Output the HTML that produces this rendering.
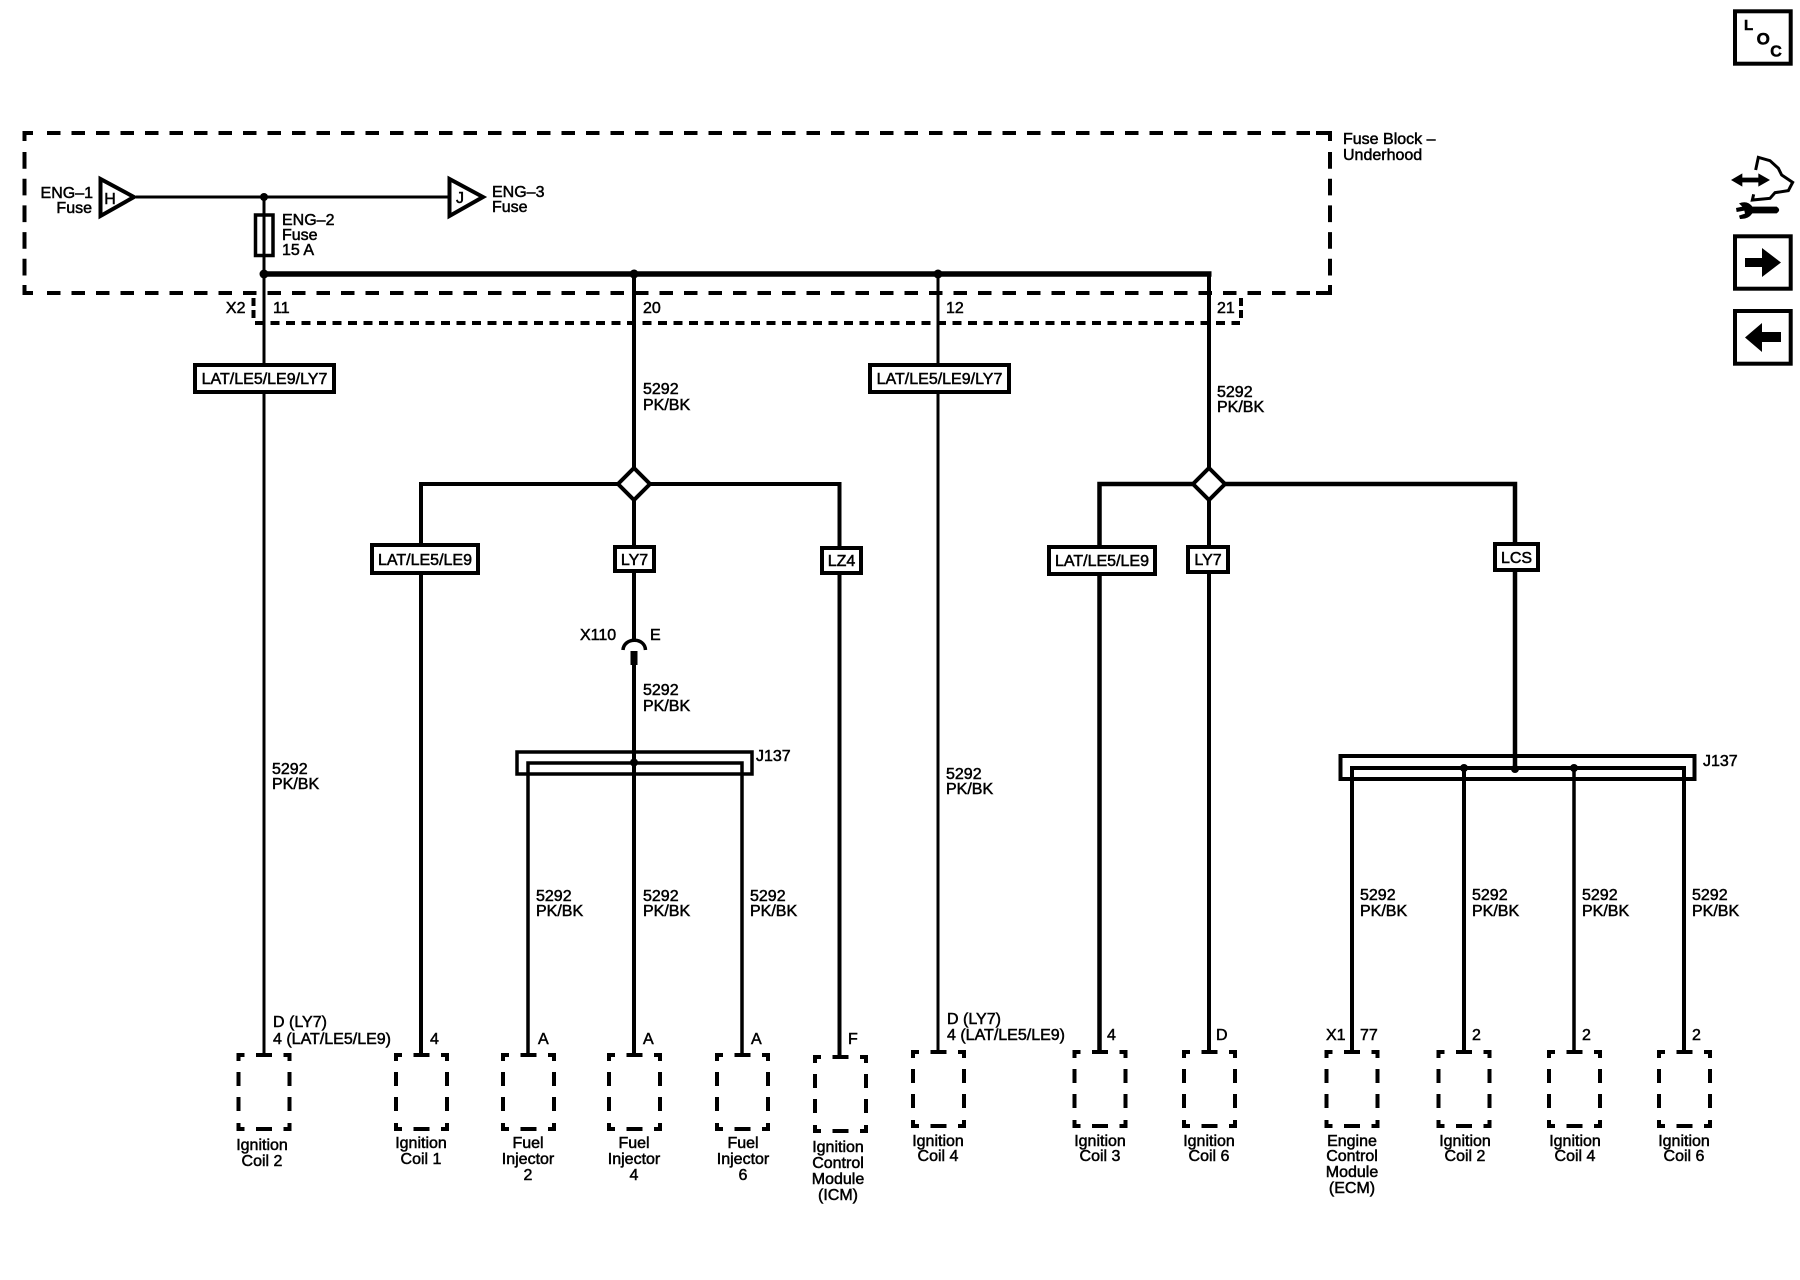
<!DOCTYPE html>
<html><head><meta charset="utf-8"><style>
html,body{margin:0;padding:0;background:#fff}
svg{display:block}
text{font-family:"Liberation Sans",sans-serif;font-size:16px;fill:#000;stroke:#000;stroke-width:.5px}
.m{text-anchor:middle}.e{text-anchor:end}
.w{fill:none;stroke:#000}
</style></head><body>
<svg width="1800" height="1280" viewBox="0 0 1800 1280" xmlns="http://www.w3.org/2000/svg">
<defs>
<g id="c" fill="none" stroke="#000" stroke-width="4">
<path d="M2 8V2H8M47 2H53V8M2 70V76H8M47 76H53V70"/>
<path d="M19.500 2H35.500M19.500 76H35.500M2 19V33M2 44V58M53 19V33M53 44V58"/>
</g>
</defs>
<rect width="1800" height="1280" fill="#fff"/>

<!-- Fuse block dashed outline -->
<g class="w" stroke-width="4" fill="none" stroke="#000">
<path d="M33 133H24.500V141M24.500 285V293H33M1316 133H1330V141M1330 285V293H1316"/>
<path d="M47 133H1310" stroke-dasharray="13.500 11"/>
<path d="M47 293H1310" stroke-dasharray="13.500 11"/>
<path d="M24.500 152V278" stroke-dasharray="16.700 10"/>
<path d="M1330 152V278" stroke-dasharray="16.700 10"/>
<path d="M255 323H1240" stroke-dasharray="9 6.500"/>
<path d="M253.500 298V318" stroke-dasharray="8 4"/>
<path d="M1241 298V318" stroke-dasharray="8 4"/>
</g>

<!-- Top wires -->
<path class="w" stroke-width="3" d="M136 197H449"/>
<path class="w" stroke-width="3" d="M264 197V1054"/>
<path class="w" stroke-width="5.500" d="M264 274H1211.500"/>
<path class="w" stroke-width="4" d="M634 274V640"/>
<path class="w" stroke-width="3" d="M938 274V1051"/>
<path class="w" stroke-width="4" d="M1209 272V470"/>
<circle cx="264" cy="197" r="4"/>
<circle cx="264" cy="274" r="4.500"/>
<circle cx="634" cy="274" r="4.500"/>
<circle cx="938" cy="274" r="4.500"/>

<!-- Triangles and fuse -->
<path d="M100.500 179V216L134 197Z" fill="#fff" stroke="#000" stroke-width="4"/>
<path d="M449.500 179V216L483 197Z" fill="#fff" stroke="#000" stroke-width="4"/>
<rect x="255.500" y="215" width="17.500" height="40.500" fill="#fff" stroke="#000" stroke-width="3.500"/>
<path class="w" stroke-width="3" d="M264 215V256"/>

<!-- Left splice -->
<path class="w" stroke-width="4" d="M421 1054V484H839.500V1055"/>
<path d="M634 468L650 484L634 500L618 484Z" fill="#fff" stroke="#000" stroke-width="4"/>
<path class="w" stroke-width="4" d="M634 500V640"/>
<path class="w" stroke-width="3.500" d="M623 650C624 637 645 637 645.500 650"/>
<rect x="630.500" y="651" width="7" height="14"/>
<path class="w" stroke-width="4" d="M634 665V1054"/>
<rect x="517" y="752" width="235" height="22" fill="none" stroke="#000" stroke-width="3.500"/>
<path class="w" stroke-width="3.500" d="M528 1054V763H742V1054"/>
<circle cx="634" cy="762.500" r="4"/>

<!-- Right splice -->
<path class="w" stroke-width="4.500" d="M1099.500 1051V484H1515V768"/>
<path class="w" stroke-width="4" d="M1209 500V1051"/>
<path d="M1209 468L1225 484L1209 500L1193 484Z" fill="#fff" stroke="#000" stroke-width="4"/>
<rect x="1340.500" y="756" width="354" height="23" fill="none" stroke="#000" stroke-width="4"/>
<path class="w" stroke-width="4" d="M1352 1051V768H1684V1051"/>
<path class="w" stroke-width="4" d="M1464 768V1051"/>
<path class="w" stroke-width="3.500" d="M1574 768V1051"/>
<circle cx="1464" cy="768" r="4"/>
<circle cx="1515" cy="769" r="4"/>
<circle cx="1574" cy="768" r="4"/>

<!-- Option boxes -->
<g fill="#fff" stroke="#000" stroke-width="4">
<rect x="195" y="365" width="139" height="27"/>
<rect x="870" y="365" width="139" height="27"/>
<rect x="372" y="545" width="106" height="28"/>
<rect x="615" y="547" width="39" height="24"/>
<rect x="822" y="548" width="39" height="25"/>
<rect x="1049" y="547" width="106" height="27"/>
<rect x="1188" y="547" width="40" height="25"/>
<rect x="1495" y="544" width="43" height="26"/>
</g>

<!-- Connectors -->
<use href="#c" x="236.500" y="1053"/>
<use href="#c" x="394" y="1053"/>
<use href="#c" x="501" y="1053"/>
<use href="#c" x="607" y="1053"/>
<use href="#c" x="715" y="1053"/>
<use href="#c" x="813" y="1055"/>
<use href="#c" x="911" y="1050"/>
<use href="#c" x="1072.500" y="1050"/>
<use href="#c" x="1182" y="1050"/>
<use href="#c" x="1324.500" y="1050"/>
<use href="#c" x="1436.500" y="1050"/>
<use href="#c" x="1547" y="1050"/>
<use href="#c" x="1657" y="1050"/>

<!-- Top labels -->
<text x="93" y="198" class="e">ENG–1</text>
<text x="92" y="213" class="e">Fuse</text>
<text x="110" y="204" class="m">H</text>
<text x="460" y="203" class="m">J</text>
<text x="492" y="197">ENG–3</text>
<text x="492" y="212">Fuse</text>
<text x="282" y="225">ENG–2</text>
<text x="282" y="240">Fuse</text>
<text x="282" y="255">15 A</text>
<text x="1343" y="144">Fuse Block –</text>
<text x="1343" y="160">Underhood</text>
<text x="245.500" y="313" class="e">X2</text>
<text x="273" y="313">11</text>
<text x="643" y="313">20</text>
<text x="946" y="313">12</text>
<text x="1217" y="313">21</text>

<!-- Option labels -->
<text x="264.500" y="384" class="m">LAT/LE5/LE9/LY7</text>
<text x="939.500" y="384" class="m">LAT/LE5/LE9/LY7</text>
<text x="425" y="565" class="m">LAT/LE5/LE9</text>
<text x="634.500" y="565" class="m">LY7</text>
<text x="841.500" y="566" class="m">LZ4</text>
<text x="1102" y="566" class="m">LAT/LE5/LE9</text>
<text x="1208" y="565" class="m">LY7</text>
<text x="1516.500" y="563" class="m">LCS</text>

<!-- Wire labels -->
<text x="643" y="394">5292</text><text x="643" y="410">PK/BK</text>
<text x="1217" y="397">5292</text><text x="1217" y="412">PK/BK</text>
<text x="272" y="774">5292</text><text x="272" y="789">PK/BK</text>
<text x="946" y="779">5292</text><text x="946" y="794">PK/BK</text>
<text x="643" y="695">5292</text><text x="643" y="711">PK/BK</text>
<text x="580" y="640">X110</text><text x="650" y="640">E</text>
<text x="756" y="761">J137</text>
<text x="1703" y="766">J137</text>
<text x="536" y="901">5292</text><text x="536" y="916">PK/BK</text>
<text x="643" y="901">5292</text><text x="643" y="916">PK/BK</text>
<text x="750" y="901">5292</text><text x="750" y="916">PK/BK</text>
<text x="1360" y="900">5292</text><text x="1360" y="916">PK/BK</text>
<text x="1472" y="900">5292</text><text x="1472" y="916">PK/BK</text>
<text x="1582" y="900">5292</text><text x="1582" y="916">PK/BK</text>
<text x="1692" y="900">5292</text><text x="1692" y="916">PK/BK</text>

<!-- Pin labels -->
<text x="273" y="1027">D (LY7)</text><text x="273" y="1044">4 (LAT/LE5/LE9)</text>
<text x="430" y="1044">4</text>
<text x="538" y="1044">A</text>
<text x="643" y="1044">A</text>
<text x="751" y="1044">A</text>
<text x="848" y="1044">F</text>
<text x="947" y="1024">D (LY7)</text><text x="947" y="1040">4 (LAT/LE5/LE9)</text>
<text x="1107" y="1040">4</text>
<text x="1216" y="1040">D</text>
<text x="1326" y="1040">X1</text>
<text x="1360" y="1040">77</text>
<text x="1472" y="1040">2</text>
<text x="1582" y="1040">2</text>
<text x="1692" y="1040">2</text>

<!-- Component names -->
<text x="262" y="1150" class="m">Ignition</text><text x="262" y="1166" class="m">Coil 2</text>
<text x="421" y="1148" class="m">Ignition</text><text x="421" y="1164" class="m">Coil 1</text>
<text x="528" y="1148" class="m">Fuel</text><text x="528" y="1164" class="m">Injector</text><text x="528" y="1180" class="m">2</text>
<text x="634" y="1148" class="m">Fuel</text><text x="634" y="1164" class="m">Injector</text><text x="634" y="1180" class="m">4</text>
<text x="743" y="1148" class="m">Fuel</text><text x="743" y="1164" class="m">Injector</text><text x="743" y="1180" class="m">6</text>
<text x="838" y="1152" class="m">Ignition</text><text x="838" y="1168" class="m">Control</text><text x="838" y="1184" class="m">Module</text><text x="838" y="1200" class="m">(ICM)</text>
<text x="938" y="1146" class="m">Ignition</text><text x="938" y="1161" class="m">Coil 4</text>
<text x="1100" y="1146" class="m">Ignition</text><text x="1100" y="1161" class="m">Coil 3</text>
<text x="1209" y="1146" class="m">Ignition</text><text x="1209" y="1161" class="m">Coil 6</text>
<text x="1352" y="1146" class="m">Engine</text><text x="1352" y="1161" class="m">Control</text><text x="1352" y="1177" class="m">Module</text><text x="1352" y="1193" class="m">(ECM)</text>
<text x="1465" y="1146" class="m">Ignition</text><text x="1465" y="1161" class="m">Coil 2</text>
<text x="1575" y="1146" class="m">Ignition</text><text x="1575" y="1161" class="m">Coil 4</text>
<text x="1684" y="1146" class="m">Ignition</text><text x="1684" y="1161" class="m">Coil 6</text>

<!-- Icons -->
<rect x="1735" y="11.300" width="55.700" height="52.400" fill="none" stroke="#000" stroke-width="4"/>
<text x="1744" y="30" style="font-size:15px;font-weight:bold">L</text>
<text x="1763.300" y="44.500" class="m" style="font-size:17px;font-weight:bold">O</text>
<text x="1776" y="56.500" class="m" style="font-size:16px;font-weight:bold">C</text>

<g transform="translate(1725 150) scale(.33333)">
<path d="M18 90L52 70V83H100V70L135 90L100 110V97H52V110Z"/>
<path d="M92 60L100 22L135 32L160 55L170 75L203 97L190 122L150 128L135 145L82 150L86 133" fill="none" stroke="#000" stroke-width="9"/>
<path d="M82 170H155Q170 180 155 190H82Q70 208 45 207L42 197L60 191L58 182L35 186L33 174L52 170L42 160Q68 150 82 170Z"/>
</g>
<rect x="1735" y="236.300" width="55.700" height="52.400" fill="none" stroke="#000" stroke-width="4"/>
<path d="M1745 258H1762V248L1781 262.500L1762 277V267H1745Z"/>
<rect x="1735" y="311" width="55.700" height="52.700" fill="none" stroke="#000" stroke-width="4"/>
<path d="M1781 332H1762V323L1745 337.500L1762 352V342H1781Z"/>
</svg>
</body></html>
